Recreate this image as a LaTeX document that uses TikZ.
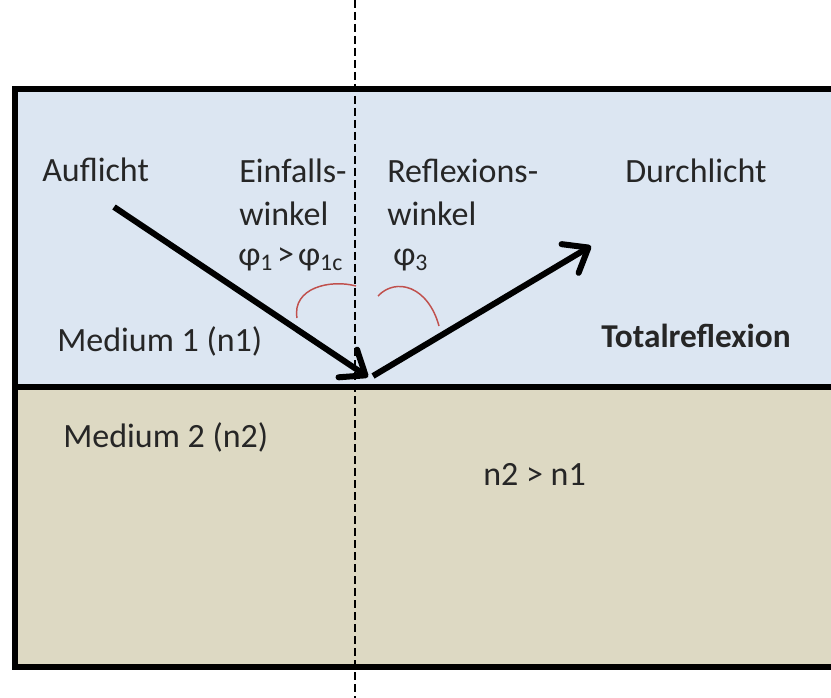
\documentclass[tikz,border=0pt]{standalone}
\usepackage{fontspec}
\setmainfont{Carlito}
\usetikzlibrary{arrows.meta}
\definecolor{mediumeins}{RGB}{220,230,242}
\definecolor{mediumzwei}{RGB}{221,217,195}
\definecolor{winkelrot}{RGB}{192,80,77}
\tikzset{
  txt/.style={anchor=base west,inner sep=0pt,font=\fontsize{25.5}{30}\selectfont,text=black!85},
  strahl/.style={line width=4.5pt,-{Straight Barb[length=16pt,width=25pt,line cap=round,line join=round]}},
  winkelbogen/.style={winkelrot,line width=1.1pt}
}

\begin{document}
\begin{tikzpicture}[x=0.75pt,y=0.75pt,yscale=-1,xscale=1]
\useasboundingbox (0,0) rectangle (831,698);

%Shape: Rectangle medium 1
\fill [mediumeins] (15,89) rectangle (831,387);
%Shape: Rectangle medium 2
\fill [mediumzwei] (15,387) rectangle (831,667);
%Shape: Frame
\draw [line width=3.8pt] (831,89) -- (15,89) -- (15,667) -- (831,667);
\draw [line width=3.8pt] (15,387) -- (831,387);
%Straight Lines: Lot
\draw [line width=1.3pt,dash pattern=on 6pt off 3pt] (355,0) -- (355,698);

%Arcs: Winkel
\draw [winkelbogen] (297,318) .. controls (292,288) and (330,279) .. (356,286);
\draw [winkelbogen] (378,296) .. controls (396,277) and (428,286) .. (439,326);

%Straight Lines: Strahlen
\coordinate (quelle) at (114,207);
\coordinate (treffer) at (368,377);
\coordinate (start) at (373,376);
\coordinate (ziel) at (591,246);
\draw [strahl] (quelle) -- (treffer);
\draw [strahl] (start) -- (ziel);

% Text Node
\node (auflicht) [txt] at (42,182) {Auflicht};
% Text Node
\node (einfalls) [txt] at (239,183) {Einfalls-};
\node (winkelA) [txt] at (239,226) {winkel};
\node (phieins) [txt] at (238,266) {φ\textsubscript{1}\kern3pt>\kern3ptφ\textsubscript{1c}};
% Text Node
\node (reflexions) [txt] at (387,183) {Reflexions-};
\node (winkelB) [txt] at (387,226) {winkel};
\node (phidrei) [txt] at (393,266) {φ\textsubscript{3}};
% Text Node
\node (durchlicht) [txt] at (625,183) {Durchlicht};
% Text Node
\node (mediumA) [txt] at (57,352) {Medium 1 (n1)};
\node (total) [txt,font=\fontsize{25}{30}\selectfont\bfseries] at (601,348) {Totalreflexion};
% Text Node
\node (mediumB) [txt] at (63,447) {Medium 2 (n2)};
\node (vergleich) [txt] at (483,485) {n2 > n1};
\end{tikzpicture}
\end{document}
